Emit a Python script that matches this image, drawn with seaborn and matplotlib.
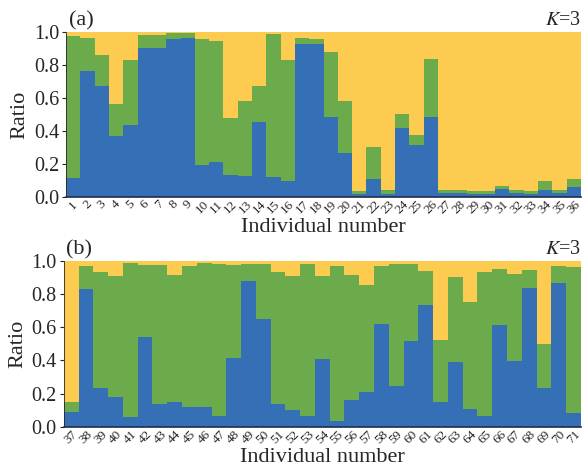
import numpy as np
import matplotlib
matplotlib.use("Agg")
import matplotlib.pyplot as plt
import pandas as pd
import seaborn as sns

# ancestry shares, K=3 (blue = cluster 1, green = cluster 2, yellow = rest)
ids_a = list(range(1, 37))
blue_a = [0.115, 0.762, 0.675, 0.370, 0.438, 0.905, 0.901, 0.958, 0.960, 0.196,
          0.210, 0.135, 0.125, 0.457, 0.119, 0.099, 0.929, 0.925, 0.487, 0.267,
          0.016, 0.109, 0.016, 0.420, 0.313, 0.487, 0.022, 0.022, 0.016, 0.016,
          0.051, 0.024, 0.020, 0.042, 0.024, 0.063]
green_a = [0.861, 0.202, 0.182, 0.196, 0.392, 0.075, 0.079, 0.032, 0.030, 0.758,
           0.733, 0.342, 0.457, 0.216, 0.865, 0.733, 0.035, 0.033, 0.392, 0.315,
           0.020, 0.192, 0.026, 0.083, 0.061, 0.349, 0.020, 0.020, 0.020, 0.022,
           0.016, 0.020, 0.018, 0.053, 0.018, 0.048]

ids_b = list(range(37, 72))
blue_b = [0.092, 0.830, 0.234, 0.180, 0.058, 0.543, 0.140, 0.152, 0.118, 0.120,
          0.068, 0.413, 0.878, 0.647, 0.138, 0.100, 0.068, 0.411, 0.038, 0.160,
          0.212, 0.617, 0.244, 0.515, 0.733, 0.148, 0.389, 0.110, 0.064, 0.611,
          0.395, 0.836, 0.232, 0.864, 0.082]
green_b = [0.056, 0.136, 0.696, 0.730, 0.930, 0.429, 0.836, 0.762, 0.850, 0.868,
           0.914, 0.559, 0.102, 0.331, 0.794, 0.806, 0.912, 0.495, 0.928, 0.754,
           0.644, 0.351, 0.738, 0.463, 0.203, 0.373, 0.511, 0.644, 0.866, 0.339,
           0.523, 0.110, 0.267, 0.102, 0.880]

BLUE = "#3570b7"
GREEN = "#6bab4b"
YELLOW = "#fdcb4f"

sns.set_style("ticks")
plt.rcParams["font.family"] = ["Liberation Serif", "DejaVu Serif"]
plt.rcParams["mathtext.fontset"] = "stix"

fig = plt.figure(figsize=(5.85, 4.68), dpi=100)
ax_a = fig.add_axes([0.113, 0.579, 0.880, 0.353])
ax_b = fig.add_axes([0.109, 0.088, 0.884, 0.355])


def structure_plot(ax, ids, blue, green, tag):
    df = pd.DataFrame({"ind": [str(i) for i in ids],
                       "blue": blue, "green": green})
    df["total"] = 1.0
    df["bg"] = df["blue"] + df["green"]
    order = df["ind"].tolist()
    for col, c in [("total", YELLOW), ("bg", GREEN), ("blue", BLUE)]:
        sns.barplot(data=df, x="ind", y=col, order=order, color=c,
                    width=1.0, saturation=1, linewidth=0, ax=ax)
    ax.set_xlim(-0.5, len(ids) - 0.5)
    ax.set_ylim(0, 1.0)
    ax.set_yticks(np.arange(0, 1.01, 0.2))
    ax.set_yticklabels([f"{v:.1f}" for v in np.arange(0, 1.01, 0.2)], fontsize=14.5)
    ax.tick_params(axis="y", length=3, width=0.8, pad=2)
    ax.tick_params(axis="x", length=0, pad=1)
    ax.set_xticks(range(len(ids)))
    ax.set_xticklabels(order, rotation=45, fontsize=9.5, ha="center")
    ax.set_ylabel("Ratio", fontsize=16, labelpad=3)
    ax.set_xlabel("Individual number", fontsize=16, labelpad=1)
    for s in ["top", "right"]:
        ax.spines[s].set_visible(False)
    ax.spines["bottom"].set_color("#1f2d4a")
    ax.spines["bottom"].set_linewidth(1.2)
    ax.spines["left"].set_linewidth(0.6)
    ax.text(0.005, 1.01, tag, transform=ax.transAxes, fontsize=16,
            ha="left", va="bottom")
    ax.text(1.0, 1.01, r"$K$=3", transform=ax.transAxes, fontsize=14.5,
            ha="right", va="bottom")


structure_plot(ax_a, ids_a, blue_a, green_a, "(a)")
structure_plot(ax_b, ids_b, blue_b, green_b, "(b)")

fig.savefig("out.png", dpi=100)
